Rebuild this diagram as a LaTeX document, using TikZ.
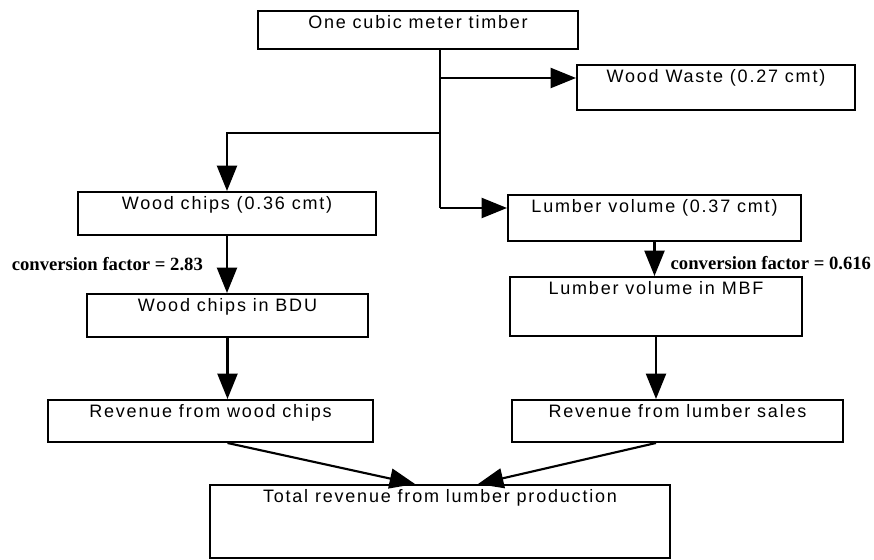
\documentclass[tikz,border=0pt]{standalone}
\usepackage{fontspec}
\setmainfont{Liberation Serif}
\newfontfamily\boxfont[LetterSpace=10]{Liberation Sans}
\usetikzlibrary{arrows.meta,calc}

\begin{document}
\begin{tikzpicture}[x=0.75pt, y=0.75pt,
  stage/.style={draw, line width=1.5pt, inner ysep=2pt, text height=11pt, text depth=#1,
    font=\boxfont\fontsize{13.5}{15}\selectfont},
  flow/.style={line width=1.6pt, -{Triangle[length=19pt, width=15pt]}},
  factor/.style={font=\bfseries\fontsize{14}{16}\selectfont}]
\useasboundingbox (0,0) rectangle (874,560);

\foreach \name/\cx/\cy/\w/\d/\txt in {
top/418/30/240/13.5/One cubic meter timber,
waste/716/87.5/208.5/18.75/Wood Waste (0.27 cmt),
chips/227/213.5/223.5/17.25/Wood chips (0.36 cmt),
lumber/654.5/218/219.75/19.5/Lumber volume (0.37 cmt),
bdu/227.5/315.5/210.75/17.25/Wood chips in BDU,
mbf/656/306.5/219/29.25/Lumber volume in MBF,
revchips/210.5/421/243.75/16.5/Revenue from wood chips,
revlumber/677.5/421/248.25/16.5/Revenue from lumber sales,
total/440/521.5/345/39.75/Total revenue from lumber production} {
  \node[stage=\d pt, minimum width=\w pt] (\name) at (\cx,560-\cy) {\txt};
}

\coordinate (j1) at (440,560-78);
\coordinate (j2) at (440,560-133);
\coordinate (j3) at (440,560-208);

\draw[line width=1.6pt] (top.south -| j1) -- (j3);
\draw[flow] (j1) -- (j1 -| waste.west);
\draw[flow] (j2) -| (chips.north);
\draw[flow] (j3) -- (j3 -| lumber.west);

\draw[flow] (chips.south) -- (chips.south |- bdu.north)
  node[midway, left=14pt, factor] {conversion factor = 2.83};
\draw[flow] (lumber.south) -- (lumber.south |- mbf.north)
  node[midway, right=8pt, yshift=-3pt, factor] {conversion factor = 0.616};

\draw[flow] (bdu.south) -- (bdu.south |- revchips.north);
\draw[flow] (mbf.south) -- (mbf.south |- revlumber.north);
\draw[flow] (bdu.south |- revchips.south) -- ($(total.north)+(-25,0)$);
\draw[flow] (mbf.south |- revlumber.south) -- ($(total.north)+(38,0)$);
\end{tikzpicture}
\end{document}
